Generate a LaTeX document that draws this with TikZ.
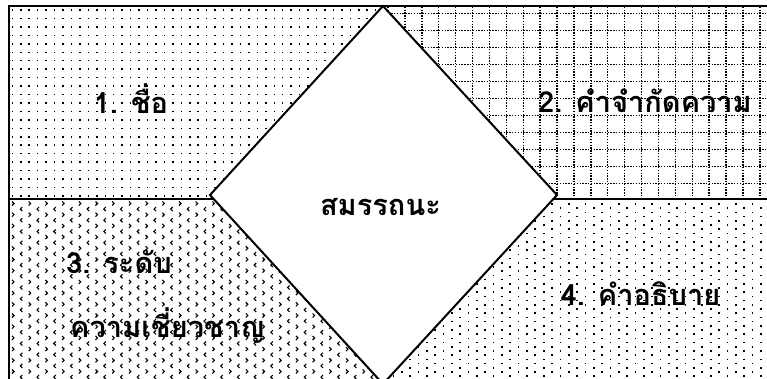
\documentclass[tikz,border=0pt]{standalone}
\usepackage{fontspec}
\newfontfamily\thai[Script=Thai]{Loma}

\begin{document}
\begin{tikzpicture}[x=1pt,y=-1pt,
  frame/.style={line width=2pt,line join=miter},
  dotgrid/.style={line width=1.4pt,dash pattern=on 1.4pt off 1.41pt},
  chev/.style={line width=1.1pt},
  lbl/.style={anchor=base,inner sep=0pt,font=\thai\bfseries\fontsize{29}{34}\selectfont}]
\useasboundingbox (0,0) rectangle (767,378);
% top left: square dot grid
\begin{scope}
  \clip (9,6) rectangle (383,199);
  \foreach \x in {0,...,44}{
    \foreach \y in {0,...,22}{
      \fill ({12.3+8.45*\x-0.75},{10+8.45*\y-0.75}) rectangle ++(1.5,1.5);
    }
  }
\end{scope}
% top right: dotted grid
\begin{scope}
  \clip (383,6) rectangle (767,199);
  \foreach \y in {0,...,11}{
    \draw[dotgrid] (380,{13.3+17*\y}) -- (770,{13.3+17*\y});
  }
  \foreach \x in {0,...,23}{
    \draw[dotgrid] ({388+16.9*\x},4) -- ({388+16.9*\x},200);
  }
\end{scope}
% bottom left: chevrons
\begin{scope}
  \clip (9,199) rectangle (383,378);
  \foreach \y in {0,...,16}{
    \foreach \x in {0,...,23}{
      \draw[chev] ({12+16.7*\x},{201.5+11.2*\y}) -- ++(2,2) -- ++(-2,2);
      \draw[chev] ({22.35+16.7*\x},{207.1+11.2*\y}) -- ++(-2,2) -- ++(2,2);
    }
  }
\end{scope}
% bottom right: staggered dots
\begin{scope}
  \clip (383,199) rectangle (767,378);
  \foreach \y in {0,...,21}{
    \foreach \x in {0,...,23}{
      \fill ({385+16.7*\x-0.85},{204+8.4*\y-0.85}) rectangle ++(1.7,1.7);
      \fill ({393.35+16.7*\x-0.85},{208.2+8.4*\y-0.85}) rectangle ++(1.7,1.7);
    }
  }
\end{scope}
\draw[frame] (768,6) -- (9,6) -- (9,379);
\draw[frame] (9,199) -- (768,199);
\draw[frame,fill=white] (383,6) -- (557,195) -- (383,384) -- (210,195) -- cycle;
\node[lbl] (t1) at (131,113) {1. ชื่อ};
\node[lbl] (t2) at (645,112) {2. คำจำกัดความ};
\node[lbl] (tc) at (380.5,215) {สมรรถนะ};
\node[lbl] (t3a) at (119,273) {3. ระดับ};
\node[lbl] (t3b) at (167.5,337) {ความเชี่ยวชาญ};
\node[lbl] (t4) at (640.5,305) {4. คำอธิบาย};
\end{tikzpicture}
\end{document}
